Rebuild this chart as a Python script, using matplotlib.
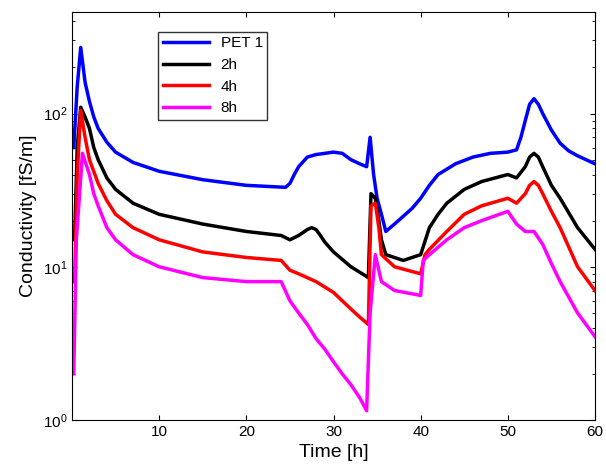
import matplotlib
matplotlib.use("Agg")
import matplotlib.pyplot as plt

plt.rcParams['font.family'] = ['Liberation Sans', 'DejaVu Sans']

t_pet = [0.2, 0.6, 1, 1.5, 2, 2.5, 3, 4, 5, 7, 10, 15, 20, 24.5, 25, 25.5, 26, 27, 28, 30, 31, 32, 33, 33.8, 34.2, 34.6, 35, 35.5, 36, 37, 39, 40, 41, 42, 44, 46, 48, 50, 51, 51.5, 52, 52.5, 53, 53.5, 54, 55, 56, 57, 58, 60]
pet = [60, 150, 270, 160, 120, 95, 80, 65, 56, 48, 42, 37, 34, 33, 35, 40, 45, 52, 54, 56, 55, 50, 47, 45, 70, 40, 28, 22, 17, 19, 24, 28, 34, 40, 47, 52, 55, 56, 58, 70, 90, 115, 125, 115, 100, 78, 64, 57, 53, 47]

t_2h = [0.3, 0.6, 1, 1.5, 2, 2.5, 3, 4, 5, 7, 10, 15, 20, 24, 25, 26, 27, 27.5, 28, 28.5, 29, 30, 32, 34, 34.3, 34.8, 35.2, 35.5, 36, 38, 40, 41, 42, 43, 45, 47, 50, 51, 52, 52.5, 53, 53.5, 54, 55, 56, 58, 60]
h2 = [15, 60, 110, 95, 80, 60, 50, 38, 32, 26, 22, 19, 17, 16, 15, 16, 17.5, 18, 17.5, 16, 14.5, 12.5, 10, 8.5, 30, 28, 20, 15, 12, 11, 12, 18, 22, 26, 32, 36, 40, 38, 45, 52, 55, 52, 45, 34, 28, 18, 13]

t_4h = [0.3, 0.6, 1, 1.5, 2, 3, 4, 5, 7, 10, 15, 20, 24, 25, 26, 28, 30, 31, 32, 33, 34, 34.3, 34.8, 35.2, 35.5, 37, 40, 40.5, 41, 43, 45, 47, 50, 51, 52, 52.5, 53, 53.5, 54, 55, 56, 58, 60]
h4 = [8, 40, 105, 70, 50, 35, 27, 22, 18, 15, 12.5, 11.5, 11, 9.5, 9, 8, 6.8, 6, 5.3, 4.7, 4.2, 25, 26, 18, 12, 10, 9, 12, 13, 17, 22, 25, 28, 26, 30, 34, 36, 34, 30, 23, 18, 10, 7]

t_8h = [0.2, 0.5, 1.2, 2, 2.5, 3, 4, 5, 7, 10, 15, 20, 24, 25, 26, 27, 28, 29, 30, 31, 32, 33, 33.8, 34.2, 34.8, 35.2, 35.5, 37, 40, 40.3, 41, 43, 45, 47, 50, 51, 52, 53, 54, 55, 56, 58, 60]
h8 = [2, 15, 55, 40, 30, 25, 18, 15, 12, 10, 8.5, 8, 8, 6, 5, 4.2, 3.4, 2.9, 2.4, 2.0, 1.7, 1.4, 1.15, 5, 12, 9.5, 8, 7, 6.5, 11, 12, 15, 18, 20, 23, 19, 17, 17, 14, 10.5, 8, 5, 3.5]

fig = plt.figure(figsize=(6.06, 4.66), dpi=100)
ax = fig.add_axes([72 / 606, 1 - 420 / 466, (595 - 72) / 606, (420 - 12) / 466])

ax.plot(t_pet, pet, color='#0000ff', lw=2.5, label='PET 1')
ax.plot(t_2h, h2, color='black', lw=2.5, label='2h')
ax.plot(t_4h, h4, color='red', lw=2.5, label='4h')
ax.plot(t_8h, h8, color='magenta', lw=2.5, label='8h')

ax.set_yscale('log')
ax.set_xlim(0, 60)
ax.set_ylim(1, 460)
ax.set_xticks([10, 20, 30, 40, 50, 60])
ax.tick_params(labelsize=11, direction='in', which='both', top=True, right=True)
ax.set_xlabel('Time [h]', fontsize=14)
ax.set_ylabel('Conductivity [fS/m]', fontsize=14)

ax.legend(loc='upper left', bbox_to_anchor=(0.15, 0.97), fontsize=11, frameon=True,
          fancybox=False, edgecolor='black', handlelength=3, borderpad=0.3)

fig.savefig('out.png', dpi=100)
